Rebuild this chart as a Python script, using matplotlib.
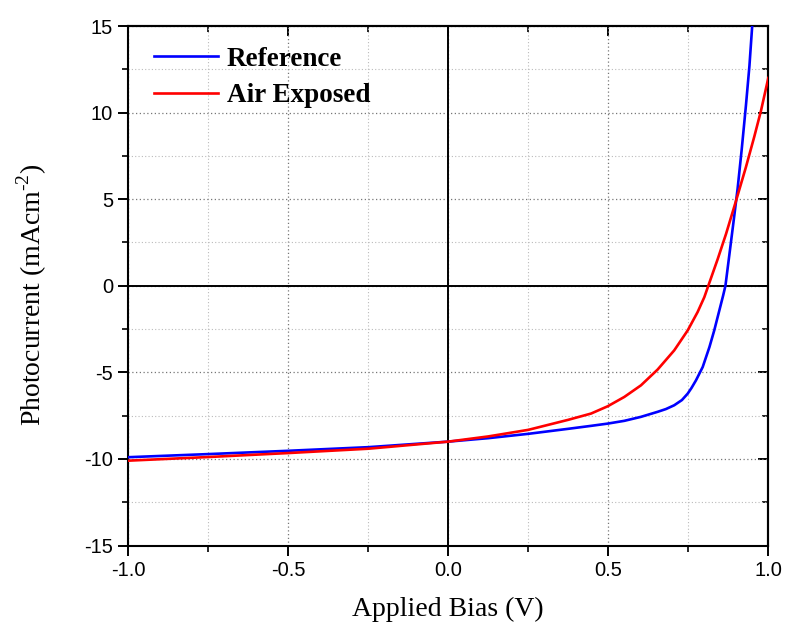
import matplotlib
matplotlib.use("Agg")
import matplotlib.pyplot as plt
from matplotlib.ticker import MultipleLocator

# J-V data (applied bias in V, photocurrent in mA/cm^2)
bias_ref = [-1.0, -0.75, -0.5, -0.25, 0.0, 0.125, 0.25, 0.375, 0.446, 0.498, 0.55, 0.602,
            0.654, 0.68, 0.706, 0.73, 0.748, 0.76, 0.774, 0.795, 0.816, 0.831, 0.847, 0.859,
            0.866, 0.878, 0.892, 0.904, 0.917, 0.930, 0.941, 0.950]
current_ref = [-9.9, -9.72, -9.53, -9.32, -9.0, -8.8, -8.55, -8.26, -8.09, -7.96, -7.80, -7.57,
               -7.28, -7.12, -6.90, -6.60, -6.23, -5.90, -5.46, -4.69, -3.54, -2.58, -1.42, -0.55,
               0.0, 1.75, 3.8, 5.6, 7.9, 10.4, 12.7, 15.1]

bias_air = [-1.0, -0.75, -0.5, -0.25, 0.0, 0.125, 0.25, 0.375, 0.446, 0.498, 0.55, 0.602,
            0.654, 0.706, 0.748, 0.779, 0.8, 0.8125, 0.842, 0.868, 0.899, 0.930, 0.956,
            0.977, 1.0]
current_air = [-10.1, -9.89, -9.66, -9.41, -9.0, -8.7, -8.32, -7.74, -7.38, -6.96, -6.42, -5.75,
               -4.84, -3.73, -2.58, -1.52, -0.66, 0.0, 1.55, 3.0, 4.9, 6.85, 8.6,
               10.1, 12.0]

series_labels = ["Reference", "Air Exposed"]
x_ticks = [-1.0, -0.5, 0.0, 0.5, 1.0]
y_ticks = [-15, -10, -5, 0, 5, 10, 15]

plt.rcParams["mathtext.fontset"] = "custom"
plt.rcParams["mathtext.rm"] = "Liberation Serif"

fig = plt.figure(figsize=(7.86, 6.33), dpi=100)
ax = fig.add_axes([0.1632, 0.1382, 0.8143, 0.8207])

ax.set_xlim(-1.0, 1.0)
ax.set_ylim(-15, 15)

ax.set_xticks(x_ticks)
ax.set_yticks(y_ticks)
ax.xaxis.set_minor_locator(MultipleLocator(0.25))
ax.yaxis.set_minor_locator(MultipleLocator(2.5))
ax.set_xticklabels([f"{v:.1f}" for v in x_ticks])
ax.set_yticklabels([f"{v:d}" for v in y_ticks])

ax.grid(which="major", linestyle=(0, (1, 2)), color="#777777", linewidth=0.9)
ax.grid(which="minor", linestyle=(0, (1, 2)), color="#bbbbbb", linewidth=0.8)
ax.set_axisbelow(True)

ax.axhline(0, color="black", linewidth=1.4, zorder=1.5)
ax.axvline(0, color="black", linewidth=1.4, zorder=1.5)

ax.plot(bias_ref, current_ref, color="#0000ff", linewidth=1.9, label=series_labels[0],
        zorder=3, solid_joinstyle="round")
ax.plot(bias_air, current_air, color="#ff0000", linewidth=1.9, label=series_labels[1],
        zorder=3, solid_joinstyle="round")

for side in ax.spines.values():
    side.set_linewidth(1.5)

ax.tick_params(which="major", direction="out", length=7, width=1.4,
               labelsize=14.5, pad=4)
ax.tick_params(which="minor", direction="out", length=4, width=1.2)
for lab in ax.get_xticklabels() + ax.get_yticklabels():
    lab.set_family("Liberation Sans")

# Mirror ticks on top and right, pointing inward
top = ax.secondary_xaxis("top")
top.set_xticks(x_ticks)
top.xaxis.set_minor_locator(MultipleLocator(0.25))
top.tick_params(which="major", direction="in", length=7, width=1.4, labeltop=False)
top.tick_params(which="minor", direction="in", length=4, width=1.2)
right = ax.secondary_yaxis("right")
right.set_yticks(y_ticks)
right.yaxis.set_minor_locator(MultipleLocator(2.5))
right.tick_params(which="major", direction="in", length=7, width=1.4, labelright=False)
right.tick_params(which="minor", direction="in", length=4, width=1.2)
for sec in (top, right):
    for s in sec.spines.values():
        s.set_linewidth(1.5)

ax.set_xlabel("Applied Bias (V)", family="Liberation Serif", fontsize=20, labelpad=12)
ax.set_ylabel("Photocurrent (mAcm$^{\\mathregular{\u2010}\\mathregular{2}}$)",
              family="Liberation Serif", fontsize=20, labelpad=25)
ax.yaxis.label.set_y(0.482)

leg = ax.legend(loc="upper left", bbox_to_anchor=(0.04, 0.96), frameon=False,
                handlelength=2.35, handletextpad=0.35, borderaxespad=0.0, borderpad=0.0,
                labelspacing=0.42,
                prop={"family": "Liberation Serif", "weight": "bold", "size": 19.5})

fig.savefig("out.png", dpi=100)
